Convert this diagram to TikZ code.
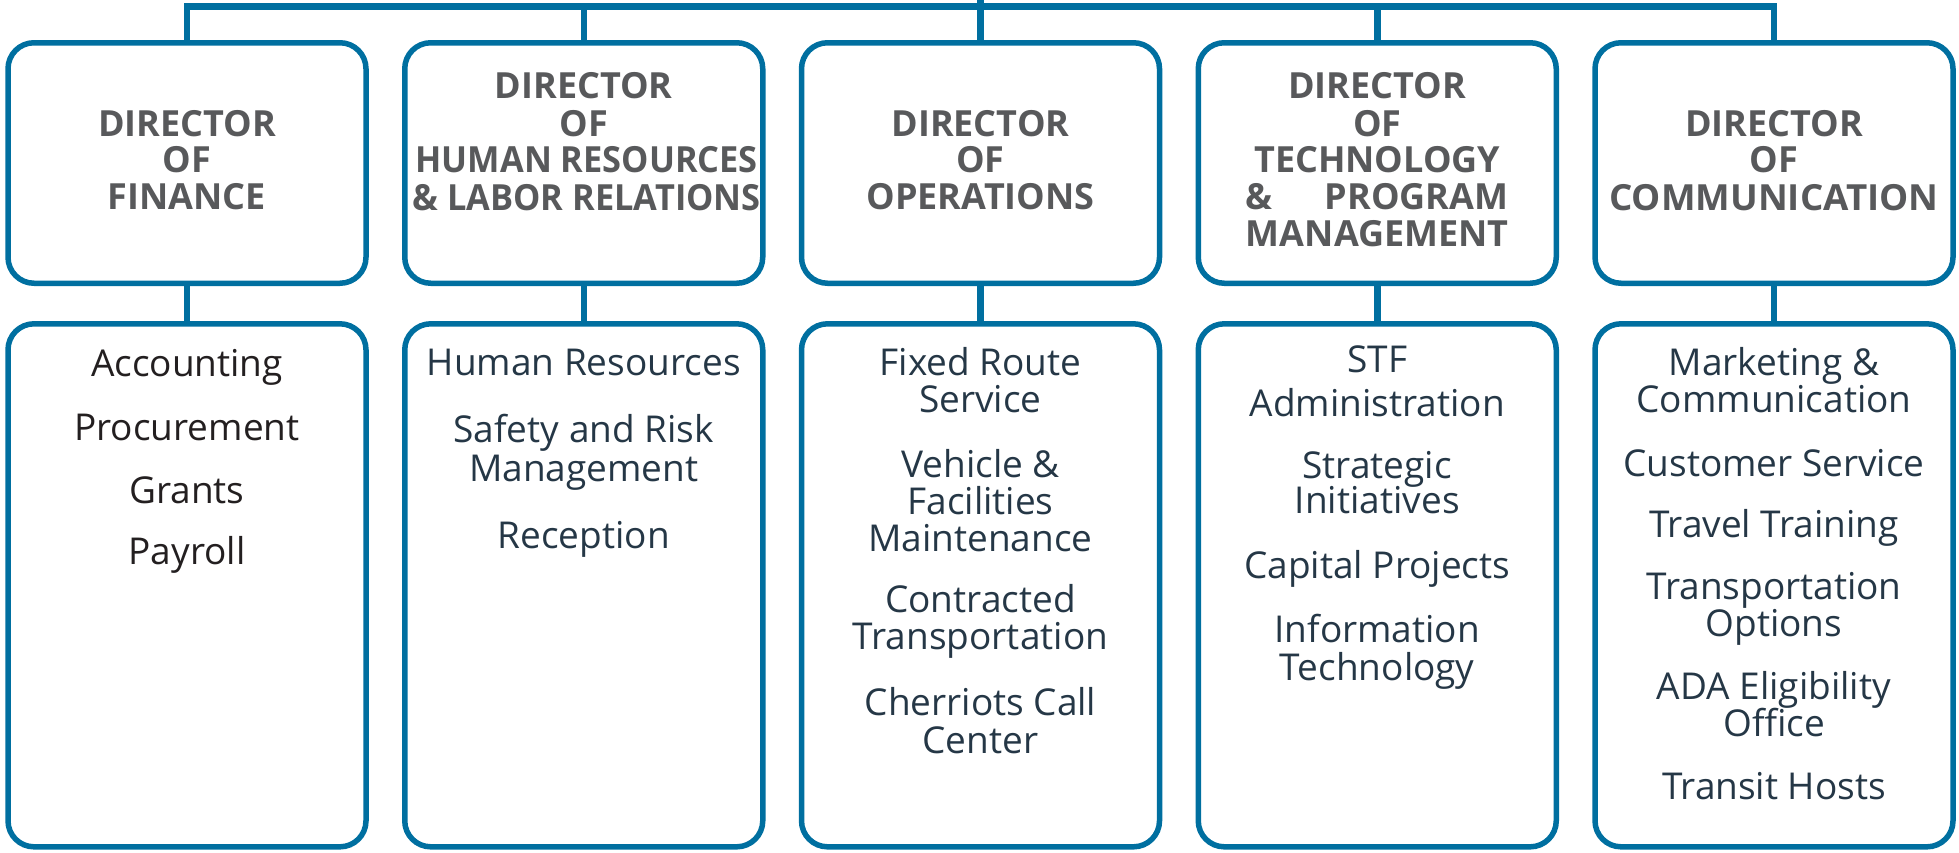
\documentclass[tikz,border=0pt]{standalone}
\usepackage{fontspec}
\usepackage{calc}
\usetikzlibrary{calc}
\setmainfont{Open Sans}
\definecolor{cblue}{HTML}{006FA0}
\definecolor{cgray}{HTML}{58595B}
\definecolor{cblack}{HTML}{231F20}
\definecolor{cslate}{HTML}{253746}
\begin{document}
\begin{tikzpicture}[x=1pt,y=-1pt,
  dirbox/.style={draw=cblue, line width=5.5pt, rounded corners=26pt,
    minimum width=358pt, minimum height=240.5pt, inner sep=0pt},
  unitbox/.style={dirbox, minimum height=523pt},
  link/.style={draw=cblue, line width=6.5pt, line join=miter},
  head/.style={anchor=base, inner sep=0pt, text=cgray,
    font=\fontsize{36}{37}\selectfont\bfseries},
  item/.style={anchor=base, inner sep=0pt, text=cslate,
    font=\fontsize{37}{37}\selectfont}]
\useasboundingbox (0,0) rectangle (1959,852);

% director boxes and unit boxes
\foreach \cx [count=\i] in {187,583.75,980.5,1377.25,1774} {
  \node[dirbox] (d\i) at (\cx,163) {};
  \node[unitbox] (u\i) at (\cx,585.3) {};
  \draw[link] (d\i.south) -- (u\i.north);
}

% reporting line along the top
\coordinate (barL) at (d1.north |- 0,6.5);
\coordinate (barR) at (d5.north |- 0,6.5);
\draw[link] (d1.north) -- (barL) -- (barR) -- (d5.north);
\draw[link] (d2.north) -- (d2.north |- barL);
\draw[link] (d3.north) -- (d3.north |- 0,0);
\draw[link] (d4.north) -- (d4.north |- barL);

% director titles
\foreach \t/\y [count=\k] in {DIRECTOR/136, OF/172.7, FINANCE/209.3}
  \node[head] (h1-\k) at (d1 |- 0,\y) {\t};
\foreach \t/\y [count=\k] in {DIRECTOR/98.7, OF/136}
  \node[head] (h2-\k) at (d2 |- 0,\y) {\t};
\node[head] (h2-3) at ($(d2 |- 0,172.7)+(3,0)$) {\scalebox{0.955}[1]{HUMAN RESOURCES}};
\node[head] (h2-4) at ($(d2 |- 0,210)+(3,0)$) {\scalebox{0.955}[1]{\& LABOR RELATIONS}};
\foreach \t/\y [count=\k] in {DIRECTOR/136, OF/172.7, OPERATIONS/209.3}
  \node[head] (h3-\k) at (d3 |- 0,\y) {\t};
\foreach \t/\y [count=\k] in {DIRECTOR/98.7, OF/136, TECHNOLOGY/172.7}
  \node[head] (h4-\k) at (d4 |- 0,\y) {\t};
\node[head] (h4-4) at (d4 |- 0,209.3) {\makebox[\widthof{MANAGEMENT}]{\&\hfill PROGRAM}};
\node[head] (h4-5) at (d4 |- 0,246) {MANAGEMENT};
\foreach \t/\y [count=\k] in {DIRECTOR/136, OF/172.7}
  \node[head] (h5-\k) at (d5 |- 0,\y) {\t};
\node[head] (h5-3) at (d5 |- 0,210) {\scalebox{1.02}[1]{COMMUNICATION}};

% units under each director
\foreach \t/\y [count=\k] in {Accounting/376, Procurement/440, Grants/503, Payroll/564}
  \node[item, text=cblack] (a1-\k) at (u1 |- 0,\y) {\t};
\foreach \t/\y [count=\k] in {Human Resources/375, Safety and Risk/442, Management/481, Reception/548}
  \node[item] (a2-\k) at (u2 |- 0,\y) {\t};
\foreach \t/\y [count=\k] in {Fixed Route/375, Service/412, Vehicle \&/477, Facilities/514,
    Maintenance/551, Contracted/612, Transportation/649, Cherriots Call/715, Center/753}
  \node[item] (a3-\k) at (u3 |- 0,\y) {\t};
\foreach \t/\y [count=\k] in {STF/372, Administration/416, Strategic/478, Initiatives/513,
    Capital Projects/578, Information/642, Technology/680}
  \node[item] (a4-\k) at (u4 |- 0,\y) {\t};
\foreach \t/\y [count=\k] in {Marketing \&/375, Communication/412, Customer Service/476,
    Travel Training/537, Transportation/599, Options/636, ADA Eligibility/699,
    Office/736, Transit Hosts/799}
  \node[item] (a5-\k) at (u5 |- 0,\y) {\t};
\end{tikzpicture}
\end{document}
